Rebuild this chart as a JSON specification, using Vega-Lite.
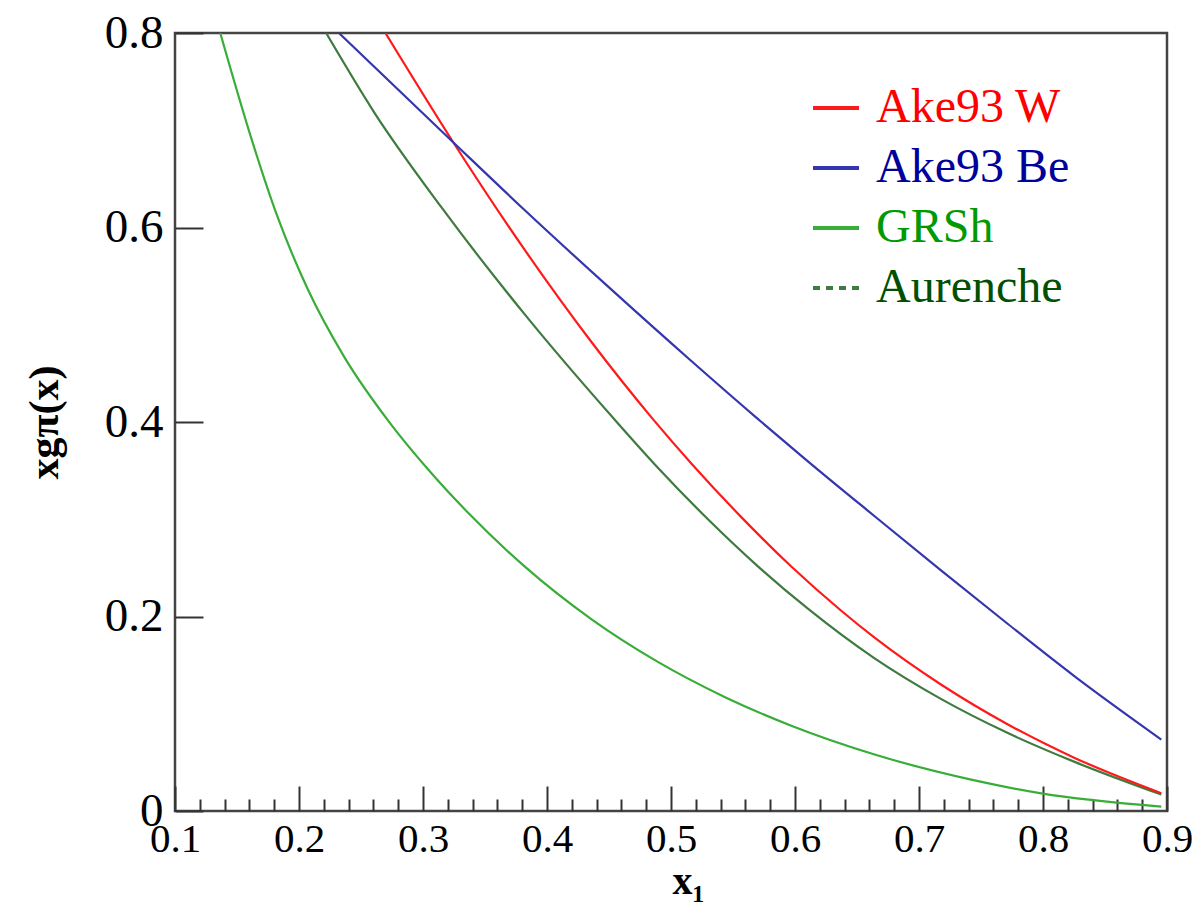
{
  "$schema": "https://vega.github.io/schema/vega-lite/v6.json",
  "width": 992,
  "height": 778,
  "autosize": "none",
  "padding": {"left": 175, "top": 33, "right": 28, "bottom": 98},
  "background": "white",
  "config": {
    "font": "Liberation Serif",
    "view": {"stroke": "#444444", "strokeWidth": 2.5}
  },
  "data": {
    "values": [
      {"model": "GRSh", "x": 0.1365, "y": 0.8},
      {"model": "GRSh", "x": 0.1615, "y": 0.6919},
      {"model": "GRSh", "x": 0.1825, "y": 0.6117},
      {"model": "GRSh", "x": 0.2069, "y": 0.537},
      {"model": "GRSh", "x": 0.2367, "y": 0.4665},
      {"model": "GRSh", "x": 0.2731, "y": 0.3994},
      {"model": "GRSh", "x": 0.304, "y": 0.3514},
      {"model": "GRSh", "x": 0.3362, "y": 0.3069},
      {"model": "GRSh", "x": 0.3819, "y": 0.2515},
      {"model": "GRSh", "x": 0.4357, "y": 0.1973},
      {"model": "GRSh", "x": 0.4894, "y": 0.1533},
      {"model": "GRSh", "x": 0.5432, "y": 0.1173},
      {"model": "GRSh", "x": 0.597, "y": 0.0877},
      {"model": "GRSh", "x": 0.6642, "y": 0.0581},
      {"model": "GRSh", "x": 0.7448, "y": 0.0315},
      {"model": "GRSh", "x": 0.7986, "y": 0.0181},
      {"model": "GRSh", "x": 0.8954, "y": 0.0045},

      {"model": "Aurenche", "x": 0.2219, "y": 0.8},
      {"model": "Aurenche", "x": 0.261, "y": 0.7177},
      {"model": "Aurenche", "x": 0.3148, "y": 0.6209},
      {"model": "Aurenche", "x": 0.3819, "y": 0.5109},
      {"model": "Aurenche", "x": 0.4545, "y": 0.4025},
      {"model": "Aurenche", "x": 0.4894, "y": 0.353},
      {"model": "Aurenche", "x": 0.5298, "y": 0.3},
      {"model": "Aurenche", "x": 0.5701, "y": 0.2516},
      {"model": "Aurenche", "x": 0.6104, "y": 0.208},
      {"model": "Aurenche", "x": 0.6642, "y": 0.1569},
      {"model": "Aurenche", "x": 0.718, "y": 0.115},
      {"model": "Aurenche", "x": 0.7717, "y": 0.0801},
      {"model": "Aurenche", "x": 0.8255, "y": 0.0505},
      {"model": "Aurenche", "x": 0.8954, "y": 0.0169},

      {"model": "Ake93 W", "x": 0.2697, "y": 0.8},
      {"model": "Ake93 W", "x": 0.3241, "y": 0.6882},
      {"model": "Ake93 W", "x": 0.3819, "y": 0.5772},
      {"model": "Ake93 W", "x": 0.4357, "y": 0.4825},
      {"model": "Ake93 W", "x": 0.4854, "y": 0.403},
      {"model": "Ake93 W", "x": 0.5164, "y": 0.3574},
      {"model": "Ake93 W", "x": 0.5567, "y": 0.3022},
      {"model": "Ake93 W", "x": 0.597, "y": 0.2514},
      {"model": "Ake93 W", "x": 0.6373, "y": 0.2059},
      {"model": "Ake93 W", "x": 0.6642, "y": 0.1782},
      {"model": "Ake93 W", "x": 0.718, "y": 0.1298},
      {"model": "Ake93 W", "x": 0.7717, "y": 0.089},
      {"model": "Ake93 W", "x": 0.8255, "y": 0.0546},
      {"model": "Ake93 W", "x": 0.8954, "y": 0.0183},

      {"model": "Ake93 Be", "x": 0.2322, "y": 0.8},
      {"model": "Ake93 Be", "x": 0.3241, "y": 0.6879},
      {"model": "Ake93 Be", "x": 0.3819, "y": 0.618},
      {"model": "Ake93 Be", "x": 0.4491, "y": 0.5394},
      {"model": "Ake93 Be", "x": 0.5164, "y": 0.4627},
      {"model": "Ake93 Be", "x": 0.5688, "y": 0.4045},
      {"model": "Ake93 Be", "x": 0.6104, "y": 0.3596},
      {"model": "Ake93 Be", "x": 0.6642, "y": 0.3031},
      {"model": "Ake93 Be", "x": 0.718, "y": 0.2471},
      {"model": "Ake93 Be", "x": 0.7717, "y": 0.1923},
      {"model": "Ake93 Be", "x": 0.8255, "y": 0.1385},
      {"model": "Ake93 Be", "x": 0.8954, "y": 0.0735}
    ]
  },
  "encoding": {
    "y": {
      "field": "y",
      "type": "quantitative",
      "scale": {"domain": [0, 0.8], "nice": false},
      "axis": {
        "values": [0, 0.2, 0.4, 0.6, 0.8],
        "domain": false,
        "grid": false,
        "ticks": true,
        "tickSize": -28,
        "tickColor": "#333333",
        "tickWidth": 2,
        "labelExpr": "datum.value == 0 ? '0' : format(datum.value, '.1f')",
        "labelFont": "Liberation Serif",
        "labelFontSize": 47,
        "labelColor": "#000000",
        "labelPadding": 40,
        "labelFlush": false,
        "labelOverlap": false,
        "title": "xgπ(x)",
        "titleFont": "Liberation Serif",
        "titleFontSize": 42,
        "titleFontWeight": "bold",
        "titleColor": "#000000",
        "titleAngle": 270,
        "titleX": -118,
        "titleY": 389,
        "titleAlign": "center",
        "titleBaseline": "alphabetic"
      }
    },
    "color": {
      "field": "model",
      "type": "nominal",
      "scale": {
        "domain": ["Ake93 W", "Ake93 Be", "GRSh", "Aurenche"],
        "range": ["#ff1a1a", "#3535ad", "#38ad38", "#3f7a3f"]
      },
      "legend": {
        "title": null,
        "orient": "none",
        "legendX": 636,
        "legendY": 50,
        "padding": 0,
        "symbolType": "stroke",
        "symbolSize": 2116,
        "symbolStrokeWidth": 4,
        "labelFont": "Liberation Serif",
        "labelFontSize": 48,
        "labelOffset": 15,
        "labelLimit": 400,
        "rowPadding": 11,
        "encode": {
          "symbols": {
            "update": {
              "stroke": {"signal": "datum.label === 'Ake93 W' ? '#ff0000' : datum.label === 'Ake93 Be' ? '#00009a' : datum.label === 'GRSh' ? '#009a00' : '#005000'"},
              "strokeDash": {"signal": "datum.label === 'Aurenche' ? [7, 6] : [1, 0]"}
            }
          },
          "labels": {
            "update": {
              "fill": {"signal": "datum.label === 'Ake93 W' ? '#ff0000' : datum.label === 'Ake93 Be' ? '#00009a' : datum.label === 'GRSh' ? '#009a00' : '#005000'"}
            }
          }
        }
      }
    }
  },
  "layer": [
    {
      "mark": {"type": "line", "strokeWidth": 2.2, "clip": true, "interpolate": "monotone"},
      "encoding": {
        "x": {
          "field": "x",
          "type": "quantitative",
          "scale": {"domain": [0.1, 0.9], "nice": false, "zero": false},
          "axis": {
            "orient": "bottom",
            "values": [0.1, 0.2, 0.3, 0.4, 0.5, 0.6, 0.7, 0.8, 0.9],
            "domain": false,
            "grid": false,
            "ticks": true,
            "tickSize": -25,
            "tickColor": "#333333",
            "tickWidth": 2,
            "format": ".1f",
            "labelFont": "Liberation Serif",
            "labelFontSize": 41,
            "labelColor": "#000000",
            "labelBaseline": "alphabetic",
            "labelPadding": 65,
            "labelFlush": false,
            "labelOverlap": false,
            "title": "x₁",
            "titleFont": "Liberation Serif",
            "titleFontSize": 40,
            "titleFontWeight": "bold",
            "titleColor": "#000000",
            "titleX": 513,
            "titleY": 82,
            "titleAlign": "center",
            "titleBaseline": "alphabetic"
          }
        }
      }
    },
    {
      "mark": {"type": "line", "opacity": 0, "clip": true},
      "encoding": {
        "x": {
          "field": "x",
          "type": "quantitative",
          "axis": {
            "orient": "bottom",
            "values": [0.12, 0.14, 0.16, 0.18, 0.22, 0.24, 0.26, 0.28, 0.32, 0.34, 0.36, 0.38, 0.42, 0.44, 0.46, 0.48, 0.52, 0.54, 0.56, 0.58, 0.62, 0.64, 0.66, 0.68, 0.72, 0.74, 0.76, 0.78, 0.82, 0.84, 0.86, 0.88],
            "domain": false,
            "grid": false,
            "ticks": true,
            "tickSize": -12,
            "tickColor": "#333333",
            "tickWidth": 2,
            "labels": false,
            "title": null
          }
        }
      }
    }
  ],
  "resolve": {"axis": {"x": "independent"}}
}
